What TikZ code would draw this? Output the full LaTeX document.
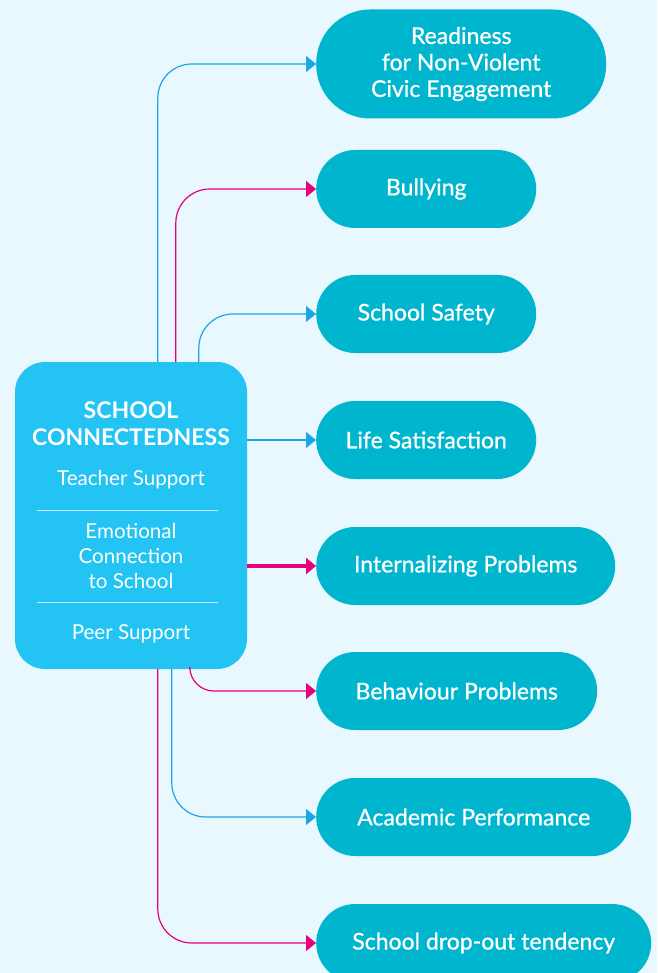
\documentclass[tikz,border=0pt]{standalone}
\usepackage{fontspec}
\setmainfont{Lato}
\newfontfamily\outfont{Lato}[FakeBold=0.8]
\usetikzlibrary{arrows.meta}

\definecolor{pagebg}{HTML}{E9F7FE}
\definecolor{hubblue}{HTML}{23C4F3}
\definecolor{outteal}{HTML}{00B5CE}
\definecolor{linkblue}{HTML}{1BA6E6}
\definecolor{linkpink}{HTML}{E6007E}
\definecolor{rulelight}{HTML}{C4EEFB}

\begin{document}
\begin{tikzpicture}[x=1pt,y=-1pt,
	hub/.style={fill=hubblue, rounded corners=30pt, minimum width=232pt, minimum height=307pt, inner sep=0pt},
	hubtext/.style={text=white, align=center, inner sep=0pt, font=\fontsize{20.6}{25}\selectfont},
	outcome/.style={fill=outteal, text=white, anchor=west, align=center, inner sep=0pt, minimum height=78pt, rounded corners=39pt, font=\outfont\fontsize{23}{26.5}\selectfont},
	bluelink/.style={draw=linkblue, line width=1.2pt, rounded corners=34pt, -{Triangle[length=10pt,width=16pt]}},
	pinklink/.style={draw=linkpink, line width=1.2pt, rounded corners=34pt, -{Triangle[length=10pt,width=16pt]}}
	]
		
		% Draw the page
		\fill[pagebg] (0,0) rectangle (657,973);
		\useasboundingbox (0,0) rectangle (657,973);
		
		% Draw the central box
		\node[hub] (sc) at (131,515.5) {};
		\node[hubtext, font=\bfseries\fontsize{23}{27}\selectfont] (title) at (131,424) {SCHOOL\\CONNECTEDNESS};
		\node[hubtext] (teach) at (131,480) {Teacher Support};
		\node[hubtext] (emo) at (131,556) {Emotional\\Connection\\to School};
		\node[hubtext] (peer) at (131,634) {Peer Support};
		\draw[rulelight, line width=1pt] (37,510) -- (218,510);
		\draw[rulelight, line width=1pt] (37,602) -- (218,602);
		
		% Draw the outcomes
		\node[outcome, minimum width=290pt, minimum height=109pt, rounded corners=54pt] (read) at (316,64) {Readiness\\for Non-Violent\\Civic Engagement};
		\node[outcome, minimum width=220pt] (bully) at (316,189) {Bullying};
		\node[outcome, minimum width=220pt] (safe) at (316,314) {School Safety};
		\node[outcome, minimum width=220pt] (life) at (316,440) {Life Satisfaction};
		\node[outcome, minimum width=299pt] (intern) at (316,566) {Internalizing Problems};
		\node[outcome, minimum width=281pt] (behav) at (316,691) {Behaviour Problems};
		\node[outcome, minimum width=315pt] (acad) at (316,817) {Academic Performance};
		\node[outcome, minimum width=335pt] (drop) at (316,943) {School drop-out tendency};
		
		% Draw the links
		\draw[bluelink] ([xshift=143pt]sc.north west) |- (read.west);
		\draw[pinklink] ([xshift=161pt]sc.north west) |- (bully.west);
		\draw[bluelink] ([xshift=184pt]sc.north west) |- (safe.west);
		\draw[bluelink, rounded corners=0pt] (sc.east |- life.west) -- (life.west);
		\draw[pinklink, line width=3.5pt, -{Triangle[length=10pt,width=16pt]}] (sc.east |- intern.west) -- (intern.west);
		\draw[pinklink, rounded corners=24pt] ([xshift=175pt]sc.south west) |- (behav.west);
		\draw[bluelink] ([xshift=157pt]sc.south west) |- (acad.west);
		\draw[pinklink] ([xshift=143pt]sc.south west) |- (drop.west);
		
	\end{tikzpicture}
\end{document}
